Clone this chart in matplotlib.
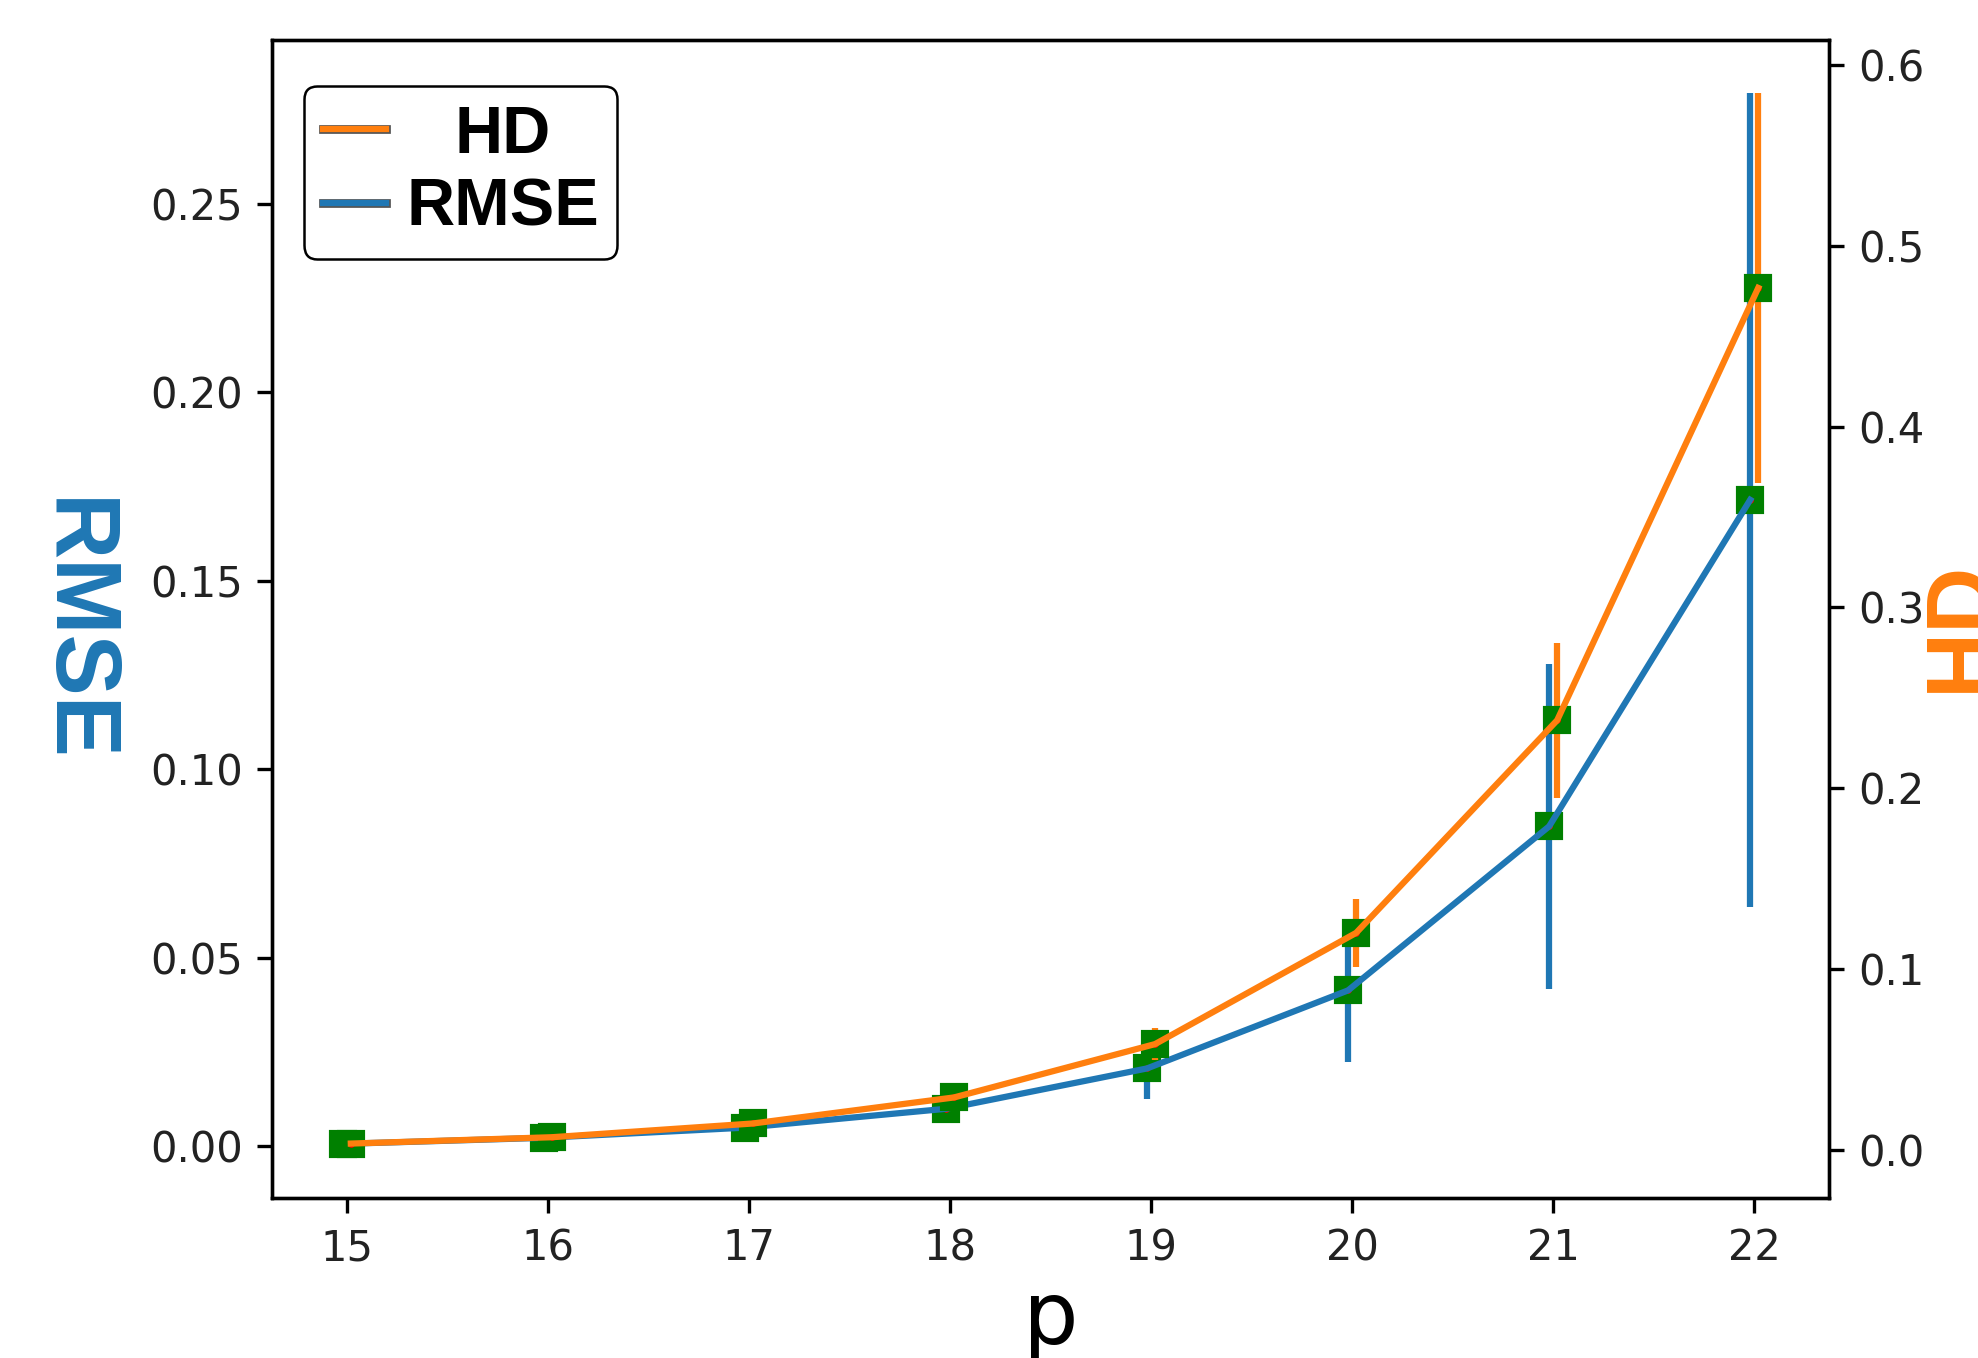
import matplotlib
matplotlib.use('Agg')
import matplotlib.pyplot as plt
import matplotlib.patheffects as pe
import numpy as np

# ---- data ----
p = [15, 16, 17, 18, 19, 20, 21, 22]
rmse = [0.0007, 0.0023, 0.0050, 0.0100, 0.0207, 0.0414, 0.0849, 0.1715]
rmse_err = [0.0004, 0.0006, 0.0010, 0.0015, 0.0080, 0.0190, 0.0430, 0.1080]
hd = [0.0035, 0.0070, 0.0146, 0.0290, 0.0585, 0.1200, 0.2376, 0.4767]
hd_err = [0.0010, 0.0015, 0.0020, 0.0030, 0.0090, 0.0190, 0.0430, 0.1080]
x_ticks = [15, 16, 17, 18, 19, 20, 21, 22]
rmse_ticks = [0.00, 0.05, 0.10, 0.15, 0.20, 0.25]
hd_ticks = [0.0, 0.1, 0.2, 0.3, 0.4, 0.5, 0.6]

BLUE = '#1f77b4'
ORANGE = '#ff7f0e'
BOLD = {'family': 'Liberation Sans', 'weight': 'bold'}

fig = plt.figure(figsize=(1978 / 300, 1358 / 300), dpi=300)
ax1 = fig.add_axes([272 / 1978, 1 - 1198 / 1358, (1829 - 272) / 1978, (1198 - 40) / 1358])
ax2 = ax1.twinx()

xr = np.array(p) - 0.02
xh = np.array(p) + 0.02

eb_r = ax1.errorbar(xr, rmse, yerr=rmse_err, color=BLUE, lw=1.5, elinewidth=1.5, capsize=0)
ax1.plot(xr, rmse, 's', color='green', ms=5.6, mew=1)
ax1.plot(xr, rmse, '.', color='red', ms=2.6, mew=0.3)

eb_h = ax2.errorbar(xh, hd, yerr=hd_err, color=ORANGE, lw=1.5, elinewidth=1.5, capsize=0)
ax2.plot(xh, hd, 's', color='green', ms=5.6, mew=1)
ax2.plot(xh, hd, '.', color='red', ms=2.6, mew=0.3)

ax1.set_xticks(x_ticks)
ax1.set_yticks(rmse_ticks)
ax1.set_yticklabels([f'{v:.2f}' for v in rmse_ticks])
ax2.set_yticks(hd_ticks)
ax2.set_yticklabels([f'{v:.1f}' for v in hd_ticks])
for ax in (ax1, ax2):
    ax.tick_params(labelsize=10, labelcolor='#222222')

ax1.set_xlabel('p', fontsize=21, labelpad=2)
ax1.set_ylabel('RMSE', color=BLUE, fontsize=22, rotation=270, **BOLD)
ax1.yaxis.set_label_coords(-0.155, 0.49)
ax2.set_ylabel('HD', color=ORANGE, fontsize=22, rotation=90, **BOLD)
ax2.yaxis.set_label_coords(1.058, 0.494)

leg = ax2.legend([eb_h.lines[0], eb_r.lines[0]], ['HD', 'RMSE'],
                 loc='upper left', bbox_to_anchor=(32 / 1557, 1 - 46 / 1158),
                 borderaxespad=0, prop=dict(size=16, **BOLD),
                 handlelength=0.95, handletextpad=0.3, borderpad=0.28,
                 labelspacing=0.17, fancybox=True, framealpha=1, edgecolor='black')
leg.get_frame().set_linewidth(0.6)
for ln in leg.get_lines():
    ln.set_path_effects([pe.Stroke(linewidth=2.1, foreground='#555555'), pe.Normal()])

# center the shorter legend label over the longer one
fig.canvas.draw()
r = fig.canvas.get_renderer()
texts = leg.get_texts()
w_hd = texts[0].get_window_extent(r).width
w_rm = texts[1].get_window_extent(r).width
try:
    rows = leg._legend_handle_box.get_children()[0].get_children()
    rows[0].sep = leg.handletextpad * leg._fontsize + (w_rm - w_hd) / 2 * 72 / fig.dpi
except Exception:
    pass

fig.savefig('out.png', dpi=300)
